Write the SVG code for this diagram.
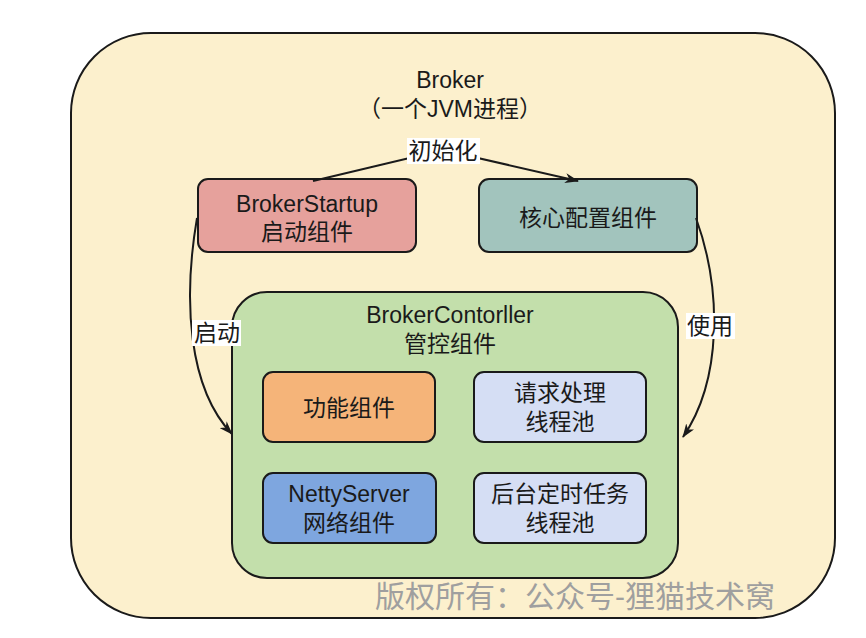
<svg xmlns="http://www.w3.org/2000/svg" width="866" height="638" viewBox="0 0 866 638">
<style>
.box{stroke:#1a1a1a;stroke-width:2}
.t{font-family:"Liberation Sans","Noto Sans CJK SC",sans-serif;font-size:23px;fill:#1a1a1a;text-anchor:middle}
.edge{fill:none;stroke:#1a1a1a;stroke-width:2}
.lbg{fill:#ffffff}
.wm{font-family:"Liberation Sans","Noto Sans CJK SC",sans-serif;font-size:30px;fill:#9f9f9f}
</style>
<defs>
<marker id="arr" viewBox="0 0 14 10" refX="13" refY="5" markerWidth="14" markerHeight="10" orient="auto" markerUnits="userSpaceOnUse">
<path d="M0,0 L14,5 L0,10 L4,5 Z" fill="#1a1a1a"/>
</marker>
</defs>
<rect width="866" height="638" fill="#ffffff"/>
<g id="broker">
<rect class="box" x="71" y="33" width="764" height="585" rx="80" fill="#fcf0cd"/>
<text class="t" x="450" y="88">Broker</text>
<text class="t" x="450" y="117">（一个JVM进程）</text>
</g>
<g id="brokerStartup">
<rect class="box" x="198" y="179" width="218" height="73" rx="10" fill="#e6a19c"/>
<text class="t" x="307" y="212">BrokerStartup</text>
<text class="t" x="307" y="240">启动组件</text>
</g>
<g id="coreConfig">
<rect class="box" x="479" y="179" width="218" height="73" rx="10" fill="#a2c4bd"/>
<text class="t" x="588" y="226">核心配置组件</text>
</g>
<g id="brokerController">
<rect class="box" x="232" y="292" width="446" height="286" rx="35" fill="#c3dfab"/>
<text class="t" x="450" y="323">BrokerContorller</text>
<text class="t" x="450" y="352">管控组件</text>
</g>
<g id="funcComp">
<rect class="box" x="263" y="372" width="172" height="70" rx="10" fill="#f5b479"/>
<text class="t" x="349" y="416">功能组件</text>
</g>
<g id="reqPool">
<rect class="box" x="474" y="372" width="172" height="70" rx="10" fill="#d5def4"/>
<text class="t" x="560" y="401">请求处理</text>
<text class="t" x="560" y="430">线程池</text>
</g>
<g id="nettyServer">
<rect class="box" x="263" y="473" width="173" height="70" rx="10" fill="#7ea6df"/>
<text class="t" x="349" y="502">NettyServer</text>
<text class="t" x="349" y="531">网络组件</text>
</g>
<g id="schedPool">
<rect class="box" x="474" y="473" width="172" height="70" rx="10" fill="#d5def4"/>
<text class="t" x="560" y="502">后台定时任务</text>
<text class="t" x="560" y="531">线程池</text>
</g>
<g id="connectors">
<path class="edge" d="M313,181 L443,150 L578,181" marker-end="url(#arr)"/>
<rect class="lbg" x="407" y="138" width="73" height="26"/>
<text class="t" x="443" y="159">初始化</text>
<path class="edge" d="M197,218 C183,300 188,388 232,434" marker-end="url(#arr)"/>
<rect class="lbg" x="192" y="320" width="49" height="26"/>
<text class="t" x="217" y="341">启动</text>
<path class="edge" d="M696,218 C722,290 722,380 683,437" marker-end="url(#arr)"/>
<rect class="lbg" x="686" y="313" width="49" height="26"/>
<text class="t" x="710" y="334">使用</text>
</g>
<text class="wm" x="375" y="607">版权所有：公众号-狸猫技术窝</text>
</svg>
